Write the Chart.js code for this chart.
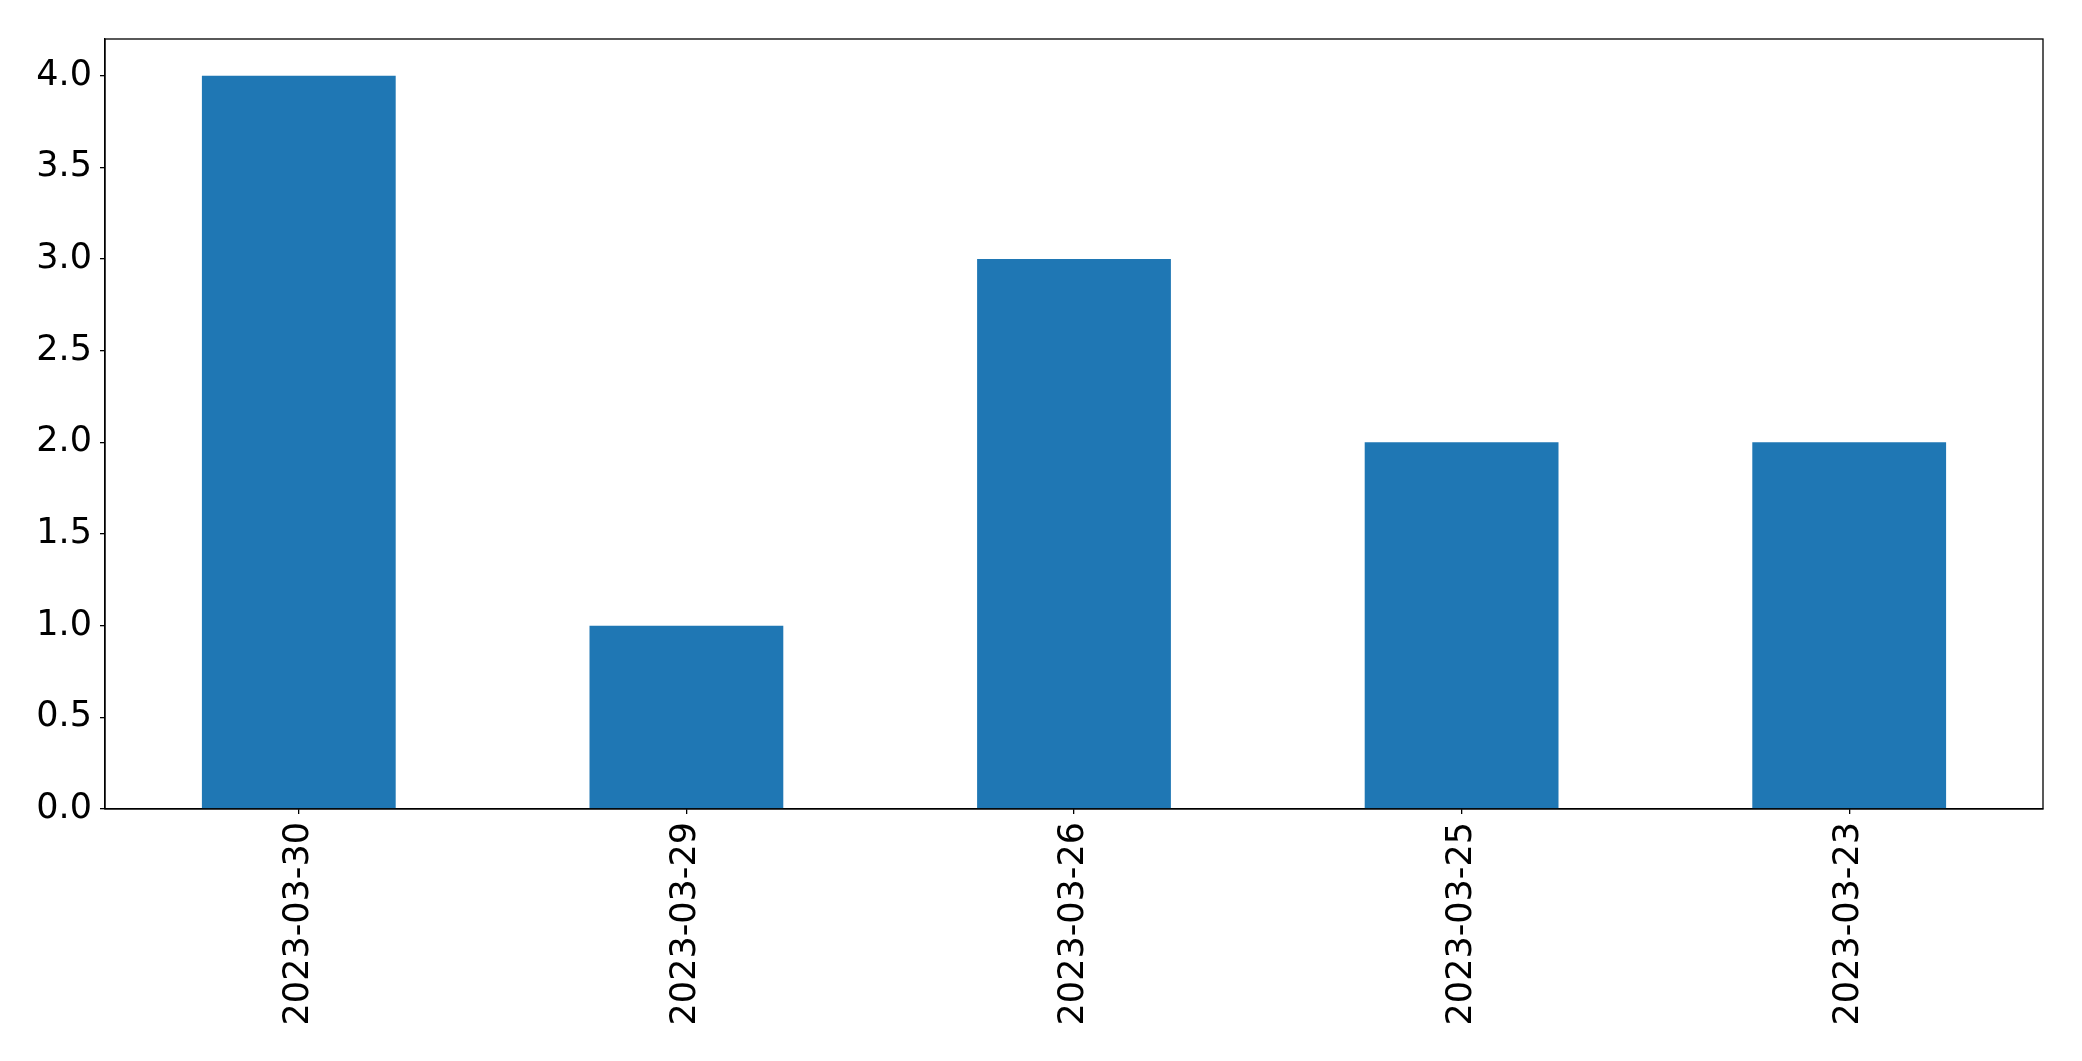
<!DOCTYPE html>
<html>
<head>
<meta charset="utf-8">
<script src="https://cdn.jsdelivr.net/npm/chart.js@4/dist/chart.umd.min.js"></script>
<style>
html,body{margin:0;padding:0;background:#fff;}
canvas{display:block;}
</style>
</head>
<body>
<canvas id="c" width="2082" height="1061"></canvas>
<script>
const categories = ["2023-03-30", "2023-03-29", "2023-03-26", "2023-03-25", "2023-03-23"];
const counts = [4, 1, 3, 2, 2];
const yTicks = [0.0, 0.5, 1.0, 1.5, 2.0, 2.5, 3.0, 3.5, 4.0];

const frame = {
  id: 'frame',
  afterDraw(chart) {
    const a = chart.chartArea, ctx = chart.ctx;
    ctx.save();
    ctx.strokeStyle = '#000';
    ctx.lineWidth = 1.3;
    ctx.strokeRect(a.left, a.top, a.right - a.left, a.bottom - a.top);
    ctx.restore();
  }
};

const font = { family: 'DejaVu Sans', size: 35 };

new Chart(document.getElementById('c'), {
  type: 'bar',
  data: {
    labels: categories,
    datasets: [{
      data: counts,
      backgroundColor: '#1f77b4',
      borderWidth: 0,
      barPercentage: 0.5,
      categoryPercentage: 1.0
    }]
  },
  options: {
    responsive: false,
    animation: false,
    devicePixelRatio: 1,
    layout: { padding: { top: 39, right: 39, left: 0, bottom: 0 } },
    plugins: { legend: { display: false }, tooltip: { enabled: false } },
    scales: {
      x: {
        offset: true,
        grid: { display: true, offset: false, drawOnChartArea: false, drawTicks: true, tickLength: 5, color: '#000', lineWidth: 1.3 },
        border: { display: true, color: '#000', width: 1.3 },
        ticks: { color: '#000', font: font, minRotation: 90, maxRotation: 90, autoSkip: false, padding: 8 },
        afterFit(s) { s.height = 252; }
      },
      y: {
        min: 0,
        max: 4.2,
        afterBuildTicks(s) { s.ticks = yTicks.map(v => ({ value: v })); },
        grid: { display: true, drawOnChartArea: false, drawTicks: true, tickLength: 5, color: '#000', lineWidth: 1.3 },
        border: { display: true, color: '#000', width: 1.3 },
        ticks: { color: '#000', font: font, padding: 8, callback: v => Number(v).toFixed(1) },
        afterFit(s) { s.width = 105; }
      }
    }
  },
  plugins: [frame]
});
</script>
</body>
</html>
